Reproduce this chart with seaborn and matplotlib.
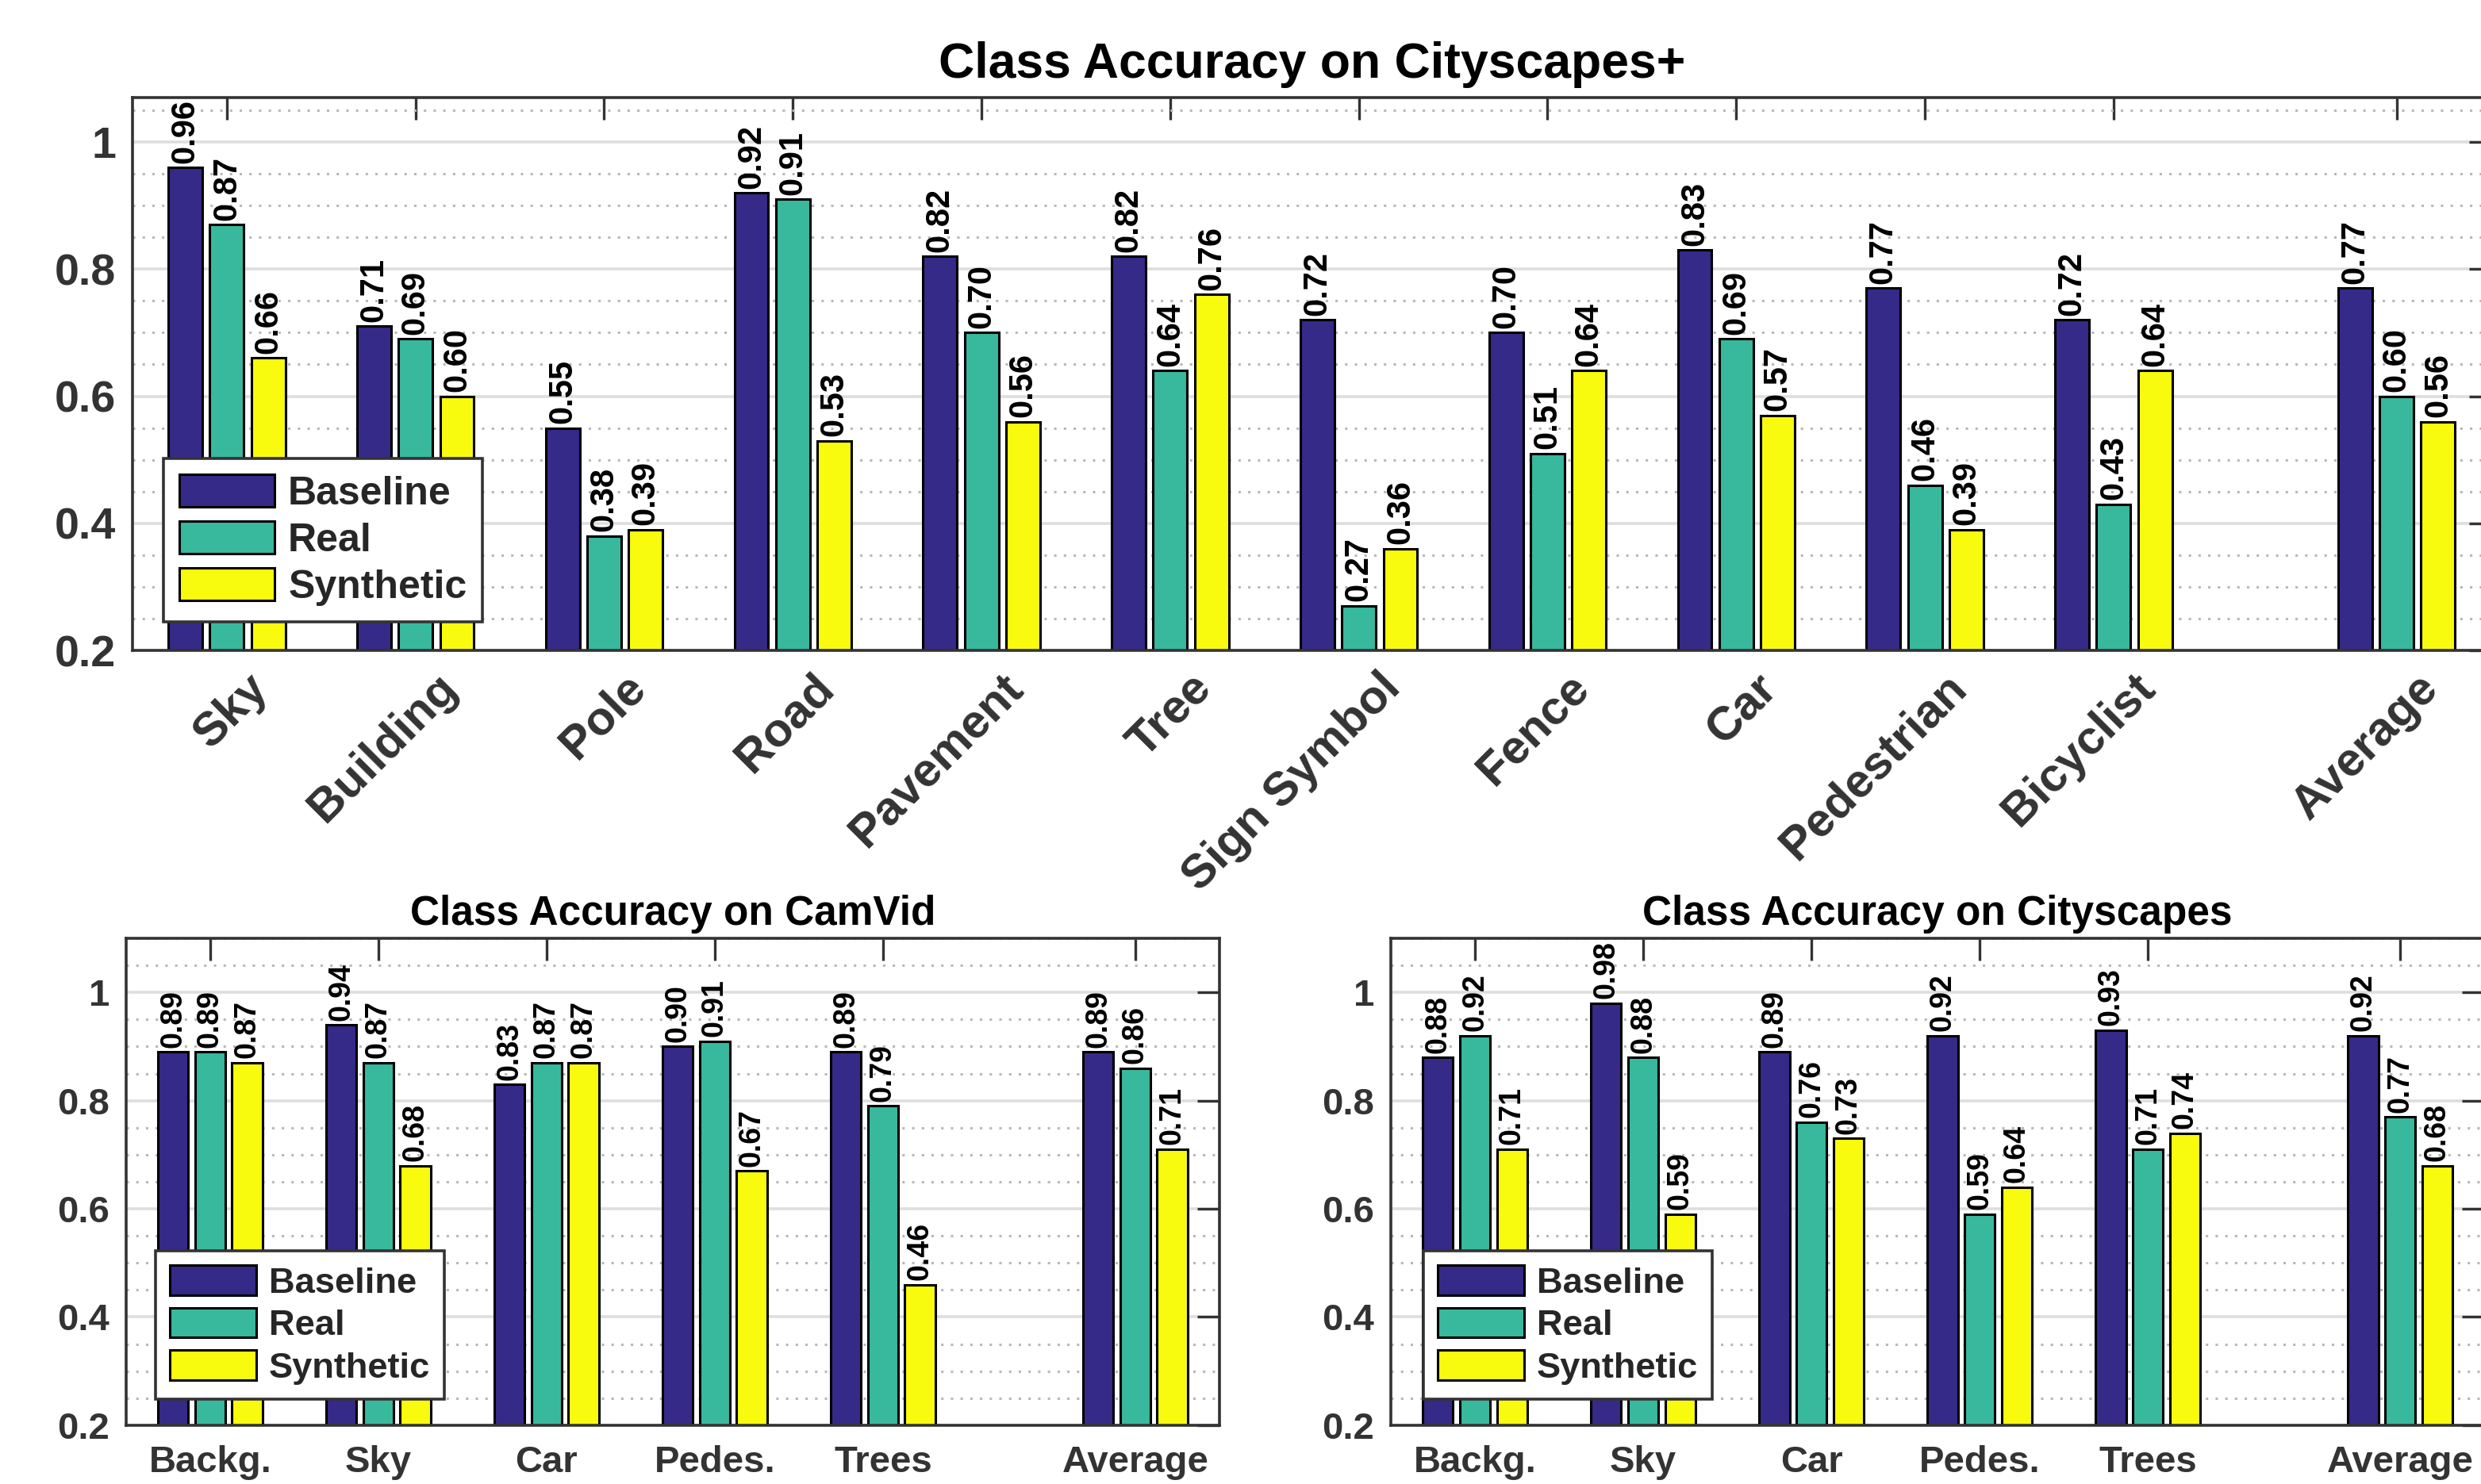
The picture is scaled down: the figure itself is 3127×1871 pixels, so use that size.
import pandas as pd
import matplotlib.pyplot as plt
import matplotlib.transforms as mtrans
from matplotlib.ticker import MultipleLocator
import seaborn as sns

# ---- Data ----
series = ["Baseline", "Real", "Synthetic"]
colors = ["#352A87", "#38B99E", "#F9FB0E"]

# Cityscapes+
cs_plus_classes = ["Sky", "Building", "Pole", "Road", "Pavement", "Tree",
                   "Sign Symbol", "Fence", "Car", "Pedestrian", "Bicyclist", "Average"]
cs_plus_baseline = [0.96, 0.71, 0.55, 0.92, 0.82, 0.82, 0.72, 0.70, 0.83, 0.77, 0.72, 0.77]
cs_plus_real = [0.87, 0.69, 0.38, 0.91, 0.70, 0.64, 0.27, 0.51, 0.69, 0.46, 0.43, 0.60]
cs_plus_synthetic = [0.66, 0.60, 0.39, 0.53, 0.56, 0.76, 0.36, 0.64, 0.57, 0.39, 0.64, 0.56]

# CamVid
camvid_classes = ["Backg.", "Sky", "Car", "Pedes.", "Trees", "Average"]
camvid_baseline = [0.89, 0.94, 0.83, 0.90, 0.89, 0.89]
camvid_real = [0.89, 0.87, 0.87, 0.91, 0.79, 0.86]
camvid_synthetic = [0.87, 0.68, 0.87, 0.67, 0.46, 0.71]

# Cityscapes
cs_classes = ["Backg.", "Sky", "Car", "Pedes.", "Trees", "Average"]
cs_baseline = [0.88, 0.98, 0.89, 0.92, 0.93, 0.92]
cs_real = [0.92, 0.88, 0.76, 0.59, 0.71, 0.77]
cs_synthetic = [0.71, 0.59, 0.73, 0.64, 0.74, 0.68]

yticks = [0.2, 0.4, 0.6, 0.8, 1.0]
ytick_labels = ["0.2", "0.4", "0.6", "0.8", "1"]

sns.set_style("white")
plt.rcParams["font.family"] = ["Liberation Sans", "DejaVu Sans"]
plt.rcParams["font.weight"] = "bold"
plt.rcParams["axes.titleweight"] = "bold"

DARK = "#333333"


def to_long(classes, base, real, synth):
    # the "Average" group sits 1.5 slots after the last class
    pos = list(range(1, len(classes))) + [len(classes) + 0.5]
    rows = []
    for name, vals in zip(series, [base, real, synth]):
        for p, v in zip(pos, vals):
            rows.append({"pos": p, "acc": v, "series": name})
    return pd.DataFrame(rows), pos


def draw(ax, classes, base, real, synth, title, ymax, fs):
    df, pos = to_long(classes, base, real, synth)
    sns.barplot(data=df, x="pos", y="acc", hue="series", hue_order=series,
                palette=colors, saturation=1, native_scale=True, width=0.66,
                gap=0.18, edgecolor="black", linewidth=1.1, errorbar=None,
                legend=False, ax=ax)

    for cont in ax.containers:
        ax.bar_label(cont, fmt="%.2f", rotation=90, padding=2,
                     fontsize=fs["val"], fontweight="bold", color="black")

    ax.set_xlim(0.5, len(classes) + 1)
    ax.set_ylim(0.2, ymax)
    ax.set_yticks(yticks, ytick_labels)
    ax.yaxis.set_minor_locator(MultipleLocator(0.05))
    ax.set_axisbelow(True)
    ax.grid(which="major", axis="y", color="#dedede", lw=1.3, ls="-")
    ax.grid(which="minor", axis="y", color="#b8b8b8", lw=1.1, ls=(0, (1, 3)))
    ax.grid(which="both", axis="x", visible=False)

    for s in ax.spines.values():
        s.set_visible(True)
        s.set_color(DARK)
        s.set_linewidth(1.3)

    ax.tick_params(which="major", direction="in", length=10, width=1.2,
                   color=DARK, top=True, right=True, labelcolor=DARK)
    ax.tick_params(which="minor", length=0)
    ax.tick_params(axis="y", labelsize=fs["ytick"], pad=7.5)

    ax.set_xlabel("")
    ax.set_ylabel("")
    ax.set_title(title, fontsize=fs["title"], pad=fs["tpad"], color="black")

    leg = ax.legend(ax.containers, series, loc="lower left",
                    bbox_to_anchor=fs["leg_at"], borderaxespad=0,
                    frameon=True, fancybox=False, framealpha=1,
                    edgecolor=DARK, handlelength=2.4, handleheight=0.9,
                    handletextpad=0.35, labelspacing=0.22, borderpad=0.4,
                    prop={"weight": "bold", "size": fs["leg"]})
    leg.get_frame().set_linewidth(1.3)
    return pos


fig = plt.figure(figsize=(15.635, 9.355), dpi=200)

# ---- Top: Cityscapes+ ----
ax_top = fig.add_axes([0.0534, 0.5617, 0.9506, 0.3726])
pos = draw(ax_top, cs_plus_classes, cs_plus_baseline, cs_plus_real, cs_plus_synthetic,
           "Class Accuracy on Cityscapes+", 1.07,
           {"val": 15, "ytick": 20, "title": 22.5, "tpad": 9, "leg": 18,
            "leg_at": (0.013, 0.052)})
ax_top.set_xticks(pos, cs_plus_classes, rotation=45, ha="right", va="top",
                  rotation_mode="anchor", fontsize=21.5)
ax_top.tick_params(axis="x", pad=7)
shift = mtrans.ScaledTranslation(0.12, 0, fig.dpi_scale_trans)
for lbl in ax_top.get_xticklabels():
    lbl.set_transform(lbl.get_transform() + shift)

# ---- Bottom left: CamVid ----
ax_cv = fig.add_axes([0.0508, 0.0396, 0.4407, 0.3281])
pos = draw(ax_cv, camvid_classes, camvid_baseline, camvid_real, camvid_synthetic,
           "Class Accuracy on CamVid", 1.1,
           {"val": 13.5, "ytick": 17, "title": 18.5, "tpad": 6, "leg": 16.3,
            "leg_at": (0.027, 0.054)})
ax_cv.set_xticks(pos, camvid_classes, fontsize=17)
ax_cv.tick_params(axis="x", pad=9)

# ---- Bottom right: Cityscapes ----
ax_cs = fig.add_axes([0.5606, 0.0396, 0.4407, 0.3281])
pos = draw(ax_cs, cs_classes, cs_baseline, cs_real, cs_synthetic,
           "Class Accuracy on Cityscapes", 1.1,
           {"val": 13.5, "ytick": 17, "title": 18.5, "tpad": 6, "leg": 16.3,
            "leg_at": (0.030, 0.054)})
ax_cs.set_xticks(pos, cs_classes, fontsize=17)
ax_cs.tick_params(axis="x", pad=9)

fig.savefig("out.png", dpi=200, facecolor="white")
